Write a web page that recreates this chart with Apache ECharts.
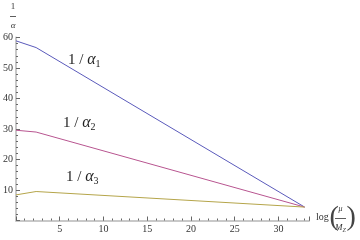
<!DOCTYPE html>
<html><head><meta charset="utf-8">
<script src="https://cdn.jsdelivr.net/npm/echarts@6/dist/echarts.min.js"></script>
<style>html,body{margin:0;padding:0;background:#fff}#c{width:360px;height:240px}</style>
</head><body><div id="c"></div>
<script>
var xPoints = [0, 2.3, 33];
var invAlpha1 = [58.9, 56.7, 4.4];
var invAlpha2 = [29.6, 29.0, 4.4];
var invAlpha3 = [8.4, 9.5, 4.4];
var seriesNames = ['1/α1', '1/α2', '1/α3'];
var xMajorTicks = [5, 10, 15, 20, 25, 30];
var yMajorTicks = [10, 20, 30, 40, 50, 60];

function pts(ys){ return xPoints.map(function(x,i){ return [x, ys[i]]; }); }
var serif = 'Liberation Serif';
var chart = echarts.init(document.getElementById('c'), null, {renderer:'canvas'});
var axisLineStyle = {color:'#c8c8c8', width:2};
var tickStyle = {color:'#666', width:1};
var labelRich = {a:{fontFamily:serif, fontSize:16, fontStyle:'italic', fill:'#222'}, s:{fontFamily:serif, fontSize:10, fill:'#222', padding:[9,0,0,0]}};
chart.setOption({
  animation:false,
  grid:{left:13, right:51, top:37.5, bottom:19.5},
  xAxis:[{
    type:'value', min:0, max:33.5, interval:5,
    axisLine:{show:true, onZero:false, lineStyle:axisLineStyle},
    axisTick:{show:true, inside:true, length:4, lineStyle:tickStyle},
    minorTick:{show:false},
    splitLine:{show:false},
    axisLabel:{fontFamily:serif, fontSize:10, color:'#333', margin:4,
      formatter:function(v){ return xMajorTicks.indexOf(v)>=0 ? String(v) : ''; }}
  },{
    type:'value', min:0, max:33.5, interval:1, position:'bottom',
    axisLine:{show:false},
    axisTick:{show:true, inside:true, length:2, lineStyle:tickStyle},
    splitLine:{show:false}, axisLabel:{show:false}
  }],
  yAxis:{
    type:'value', min:0, max:60, interval:10,
    axisLine:{show:true, onZero:false, lineStyle:axisLineStyle},
    axisTick:{show:true, inside:true, length:4, lineStyle:tickStyle},
    minorTick:{show:true, splitNumber:5, length:2, lineStyle:tickStyle},
    splitLine:{show:false},
    axisLabel:{fontFamily:serif, fontSize:10, color:'#333', margin:3,
      formatter:function(v){ return yMajorTicks.indexOf(v)>=0 ? String(v) : ''; }}
  },
  series:[
    {name:seriesNames[0], type:'line', data:pts(invAlpha1), showSymbol:false, lineStyle:{color:'#5a5abb', width:1}},
    {name:seriesNames[1], type:'line', data:pts(invAlpha2), showSymbol:false, lineStyle:{color:'#b85590', width:1}},
    {name:seriesNames[2], type:'line', data:pts(invAlpha3), showSymbol:false, lineStyle:{color:'#b5a54a', width:1}}
  ],
  graphic:[
    {type:'text', left:68, top:52, style:{text:'1 / {a|α}{s|1}', font:'15px '+serif, fill:'#222', rich:labelRich}},
    {type:'text', left:63, top:115, style:{text:'1 / {a|α}{s|2}', font:'15px '+serif, fill:'#222', rich:labelRich}},
    {type:'text', left:66, top:169, style:{text:'1 / {a|α}{s|3}', font:'15px '+serif, fill:'#222', rich:labelRich}},
    {type:'text', x:13, y:7, style:{text:'1', font:'9px '+serif, fill:'#333', align:'center', verticalAlign:'middle'}},
    {type:'line', shape:{x1:10, y1:16.5, x2:16, y2:16.5}, style:{stroke:'#333', lineWidth:0.8}},
    {type:'text', x:13, y:26, style:{text:'α', font:'italic 9px '+serif, fill:'#333', align:'center', verticalAlign:'middle'}},
    {type:'text', x:316, y:217, style:{text:'log', font:'10px '+serif, fill:'#333', align:'left', verticalAlign:'middle'}},
    {type:'text', x:329.5, y:218, style:{text:'(', font:'28px '+serif, fill:'#444', align:'left', verticalAlign:'middle'}},
    {type:'text', x:340.5, y:209, style:{text:'μ', font:'italic 8px '+serif, fill:'#333', align:'center', verticalAlign:'middle'}},
    {type:'line', shape:{x1:335, y1:218.5, x2:346, y2:218.5}, style:{stroke:'#333', lineWidth:0.8}},
    {type:'text', x:340.5, y:228, style:{text:'{m|M}{z|Z}', font:'italic 9px '+serif, fill:'#333', align:'center', verticalAlign:'middle',
      rich:{m:{fontFamily:serif, fontStyle:'italic', fontSize:9, fill:'#333'}, z:{fontFamily:serif, fontStyle:'italic', fontSize:6, fill:'#333', padding:[4,0,0,0]}}}},
    {type:'text', x:346.5, y:218, style:{text:')', font:'28px '+serif, fill:'#444', align:'left', verticalAlign:'middle'}}
  ]
});
</script></body></html>
